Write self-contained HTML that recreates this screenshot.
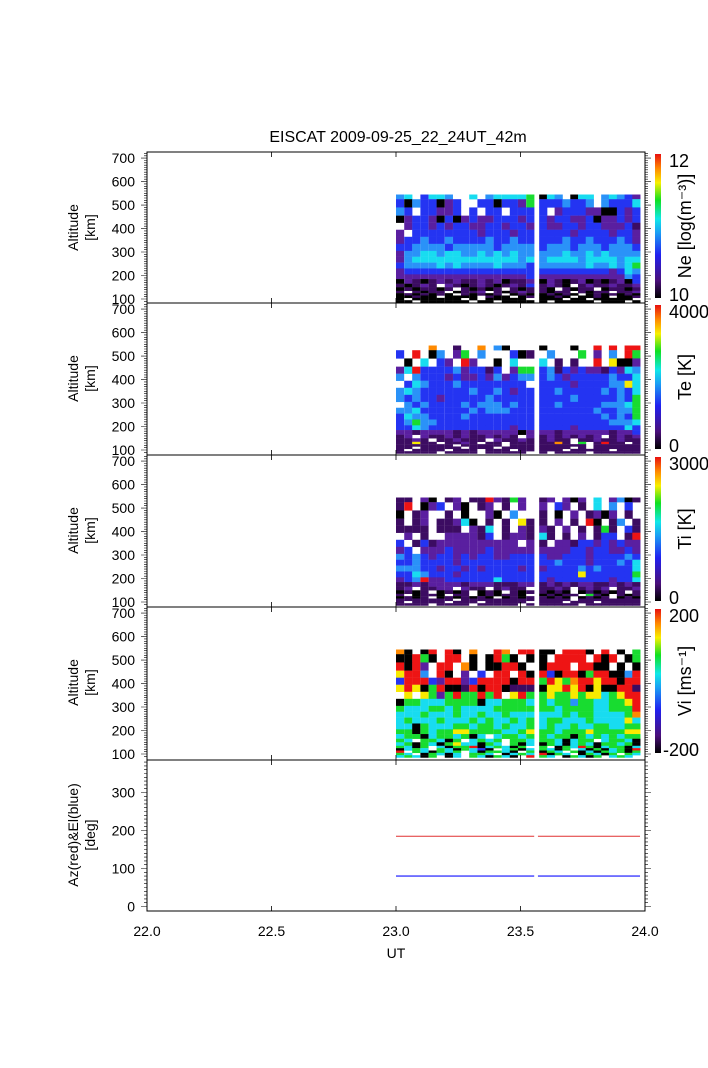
<!DOCTYPE html>
<html><head><meta charset="utf-8"><style>
html,body{margin:0;padding:0;background:#fff;}
svg text{font-family:"Liberation Sans",sans-serif;fill:#000;}
</style></head><body>
<svg id="chart" width="708" height="1063" viewBox="0 0 708 1063" xmlns="http://www.w3.org/2000/svg">
<defs>
<linearGradient id="cmap" x1="0" y1="1" x2="0" y2="0">
<stop offset="0" stop-color="#000000"/><stop offset="0.12" stop-color="#4a0f7a"/><stop offset="0.3" stop-color="#2020f0"/><stop offset="0.45" stop-color="#1a9cf5"/><stop offset="0.55" stop-color="#10e8e8"/><stop offset="0.68" stop-color="#10e020"/><stop offset="0.8" stop-color="#f8f000"/><stop offset="0.9" stop-color="#ff8800"/><stop offset="1" stop-color="#e81010"/>
</linearGradient>
</defs>
<text x="398" y="142" font-size="16" text-anchor="middle">EISCAT 2009-09-25_22_24UT_42m</text>
<g id="layers"></g>
</svg>
<script>
const colTimes=[23.000,23.033,23.065,23.098,23.131,23.163,23.196,23.229,23.261,23.294,23.327,23.359,23.392,23.425,23.457,23.490,23.523,23.575,23.606,23.637,23.668,23.700,23.731,23.762,23.793,23.824,23.855,23.887,23.918,23.949];
const colWidth=0.032;
const altEdges=[545,525,490,455,425,395,365,335,305,280,255,230,205,185,165,150,135,125,115,105,95,85];
const neRows=["45.3554..5.455556"+"054.055.45432","30433023..3303326"+"3334334.43335","43.33223.3.33.333"+"3.23332200323","02332030232233323"+"3233223022323",".2332323322332332"+"3223323322231","2.333333332333233"+"3333233332332","23343343333433433"+"3334334333432","33444434444434444"+"3444344434443","24455455445454544"+"4445445454444","24555555555555545"+"4555545555455","34444545444454443"+"4444445445456","23333333333333333"+"3333333332354","22222222222222223"+"2222222222243","02101212112120112"+"0210120101203","10121.21012101213"+"1210.12112112","0101101.10101.101"+"10.1011.01101","1.1011.0112.10121"+"1011.1011.112","0101010.10101.010"+"01010.0101010","00100.0000.100.01"+"0010.0010.001","0.000000.0.00000."+"000.00.00000.","00.000000.00.0000"+"0.00000.000.0"];
const teRows=["....8..1..8.40..."+"0...0..9.9.99","3.9.04.26.4...301"+".4...6.2.4.96",".0.5.32.92..0.5.."+"5.1.1..9.7002","2593333423313.266"+"3413232213254","4.433323223242344"+"3432333334335",".354333433333333."+"3333233334475","45433333343343233"+"3343333343435","43433233333433333"+"3333433333436",".4343333434443433"+"3343333344456","44533333343444333"+"3333333433446","35443333433333333"+"3333333343436","34644333333333333"+"3333333334445","33543333333333233"+"3333233333353","22122221212222202"+"2212222221223","12.211212112121.2"+"12121212.1212","1121.112111.21121"+"1211.11211211","11711.1121.11.111"+"1181.6.1911.1","1111111.11111.111"+"111111.111111","11.11111.111.1111"+"1111.1.111111","1.1111.111.111.11"+"111.11111.111","11111.1111.11111."+"1.1111.111111"];
const tiRows=["11.20.12.1192162."+"12.202.5.2401","19.023.20.12.1.2."+"2.32.1.5.4.3.","0.12..1.0..20.4.."+"1.0.2.1202.1.","1.12.11250.1.1.71"+"1.2.1.90.14.1","1111.111.215.1.21"+"21.2.1.161.31",".2.1..222213.1221"+"51.1.2.133.19","3.1312222222222.2"+"1.22133232322","23.22232222322222"+"2222332332232","43432332323322333"+"3223332333343","33433332333333333"+"3343332333435","44433233232333323"+"2333343433335","33543332333333333"+"3333373333336","23492233333353333"+"3233333332335","11212222122211122"+"1212122112121","12.1122.211.1211."+"1121.1212.112","0101.0101.010.101"+"1010.010101.1","1.0110.11.010110."+"01011.610.101","0101.0101010.0101"+"1010.0101.010","1111111.111111111"+"1111.11111111","1.1111.111.11111."+"111.111.11111","1111.1111.11111.1"+"11111.1111111"];
const viRows=["80.09.90.8..98.99"+"00.9990.9.0.6","00960.99.0.0960.0"+"0.9999.909.06","9092.99.80.00990."+"0999.9900.0.0","7994.90.2.3.99.90"+"9309906990049","39993299239999099"+"6976899799099","79706900190990111"+"0779790700991",".7.7626966969.796"+"6766767756799","06655566660556665"+"6566466556679","65556656555566666"+"6656666556669","55565556556556555"+"5556566555568","56555655565655656"+"5665556555575","55065556656656556"+"5655655665566","66065667766665567"+"6656667666677","56605665605.56656"+"6566065656566","65.66506.5656.665"+"6650566.56650","5606506755065.605"+"0650565066560","6506.50669056506."+"6.06596056605","0565.6506530.5605"+"6506.50605609","9.650656.506650.6"+"065.605065606","65.06505.665.0565"+"9065.06506.65","56506.05.650650.9"+"65.06506.565.0"];
const azSegments=[[23.0,23.555],[23.57,23.98]];
const azValues=[185,185];
const elValues=[80,80];
const altTicks=[100,200,300,400,500,600,700];
const degTicks=[0,100,200,300];
const utTicks=[22.0,22.5,23.0,23.5,24.0];
const levelColors=["#000000","#3c0c62","#5a1fa0","#2434f2","#2a92f8","#18dcf0","#18dc30","#f8ea00","#ff8a00","#ee1414"];

const NS="http://www.w3.org/2000/svg";
const root=document.getElementById('layers');
const X0=147,X1=645;
function xs(t){return X0+(t-22)/2*(X1-X0);}
const panelTop=[152,303,455,607,760], PH=151;
const AMIN=83,AMAX=726;
function ys(p,a){return panelTop[p]+PH-(a-AMIN)/(AMAX-AMIN)*PH;}
function mk(tag,attrs,parent){const e=document.createElementNS(NS,tag);for(const k in attrs)e.setAttribute(k,attrs[k]);(parent||root).appendChild(e);return e;}

const panels=[
 {rows:neRows,name:'ne',cb:['12','10'],label:'Ne [log(m\u207B\u00B3)]'},
 {rows:teRows,name:'te',cb:['4000','0'],label:'Te [K]'},
 {rows:tiRows,name:'ti',cb:['3000','0'],label:'Ti [K]'},
 {rows:viRows,name:'vi',cb:['200','-200'],label:'Vi [ms\u207B\u00B9]'}
];
panels.forEach((pn,p)=>{
 const g=mk('g',{});
 
 
 pn.rows.forEach((row,r)=>{
  for(let c=0;c<colTimes.length&&c<row.length;c++){
   const ch=row[c]; if(ch==='.')continue;
   const lv=parseInt(ch,10);
   const x=xs(colTimes[c]), w=xs(colTimes[c]+colWidth)-x;
   const y=ys(p,altEdges[r]), h=ys(p,altEdges[r+1])-y;
   const rc=mk('rect',{x:x.toFixed(2),y:y.toFixed(2),width:(w+0.2).toFixed(2),height:(h+0.2).toFixed(2),fill:levelColors[lv]},g);
   
   
  }
 });
 const top=panelTop[p]+2,bot=panelTop[p]+PH-5;
 const cb=mk('rect',{x:655,y:top,width:6,height:bot-top,fill:'url(#cmap)'});
 
 
 const t1=mk('text',{x:669,y:top+13,'font-size':18});t1.textContent=pn.cb[0];
 
 
 const t2=mk('text',{x:pn.cb[1].length>1&&pn.cb[1]!=='10'?663:669,y:bot+3,'font-size':18});t2.textContent=pn.cb[1];
 
 
 const cy=(top+bot)/2;
 const lt=mk('text',{x:0,y:0,'font-size':18,'text-anchor':'middle',transform:`translate(691,${cy}) rotate(-90)`});lt.textContent=pn.label;
 
 
 const yl=mk('text',{x:0,y:0,'font-size':14,'text-anchor':'middle',transform:`translate(78,${panelTop[p]+PH/2}) rotate(-90)`});yl.textContent='Altitude';
 
 
 const yl2=mk('text',{x:0,y:0,'font-size':14,'text-anchor':'middle',transform:`translate(95,${panelTop[p]+PH/2}) rotate(-90)`});yl2.textContent='[km]';
 
 
 altTicks.forEach(a=>{
  const tl=mk('text',{x:135,y:ys(p,a)+5,'font-size':14,'text-anchor':'end'});tl.textContent=a;
  
  
 });
 let d='';
 for(let a=90;a<=720;a+=10){const y=ys(p,a).toFixed(1);const L=a%100===0?6:3;d+=`M${X0} ${y}h${-L}M${X1} ${y}h${L}`;}
 mk('path',{d:d,stroke:'#000','stroke-width':0.6,fill:'none'});
});
function yd(v){return 906.5-v*0.38;}
azSegments.forEach((s,i)=>{
 const l=mk('line',{x1:xs(s[0]),x2:xs(s[1]),y1:yd(azValues[i]),y2:yd(azValues[i]),stroke:'#e03030','stroke-width':1});
 
 
 const b=mk('line',{x1:xs(s[0]),x2:xs(s[1]),y1:yd(elValues[i]),y2:yd(elValues[i]),stroke:'#5a5aff','stroke-width':1.6});
 
 
});
degTicks.forEach(v=>{
 const tl=mk('text',{x:135,y:yd(v)+5,'font-size':14,'text-anchor':'end'});tl.textContent=v;
 
 
});
{let d='';for(let v=0;v<=385;v+=10){const y=yd(v).toFixed(1);const L=v%100===0?6:3;d+=`M${X0} ${y}h${-L}M${X1} ${y}h${L}`;}
 mk('path',{d:d,stroke:'#000','stroke-width':0.6,fill:'none'});}
const a1=mk('text',{x:0,y:0,'font-size':14,'text-anchor':'middle',transform:`translate(78,835) rotate(-90)`});a1.textContent='Az(red)&El(blue)';


const a2=mk('text',{x:0,y:0,'font-size':14,'text-anchor':'middle',transform:`translate(95,835) rotate(-90)`});a2.textContent='[deg]';


for(let p=0;p<5;p++){
 const f=mk('rect',{x:X0,y:panelTop[p],width:X1-X0,height:(p<4?panelTop[p+1]:911)-panelTop[p],fill:'none',stroke:'#000','stroke-width':1});
 
 
 let d='';
 utTicks.forEach(t=>{const x=xs(t);d+=`M${x} ${panelTop[p]}v5M${x} ${(p<4?panelTop[p+1]:911)}v-5`;});
 mk('path',{d:d,stroke:'#000','stroke-width':0.8});
}
utTicks.forEach(t=>{
 const tl=mk('text',{x:xs(t),y:936,'font-size':14,'text-anchor':'middle'});tl.textContent=t.toFixed(1);
 
 
});
const ut=mk('text',{x:396,y:958,'font-size':14,'text-anchor':'middle'});ut.textContent='UT';


</script>
</body></html>
